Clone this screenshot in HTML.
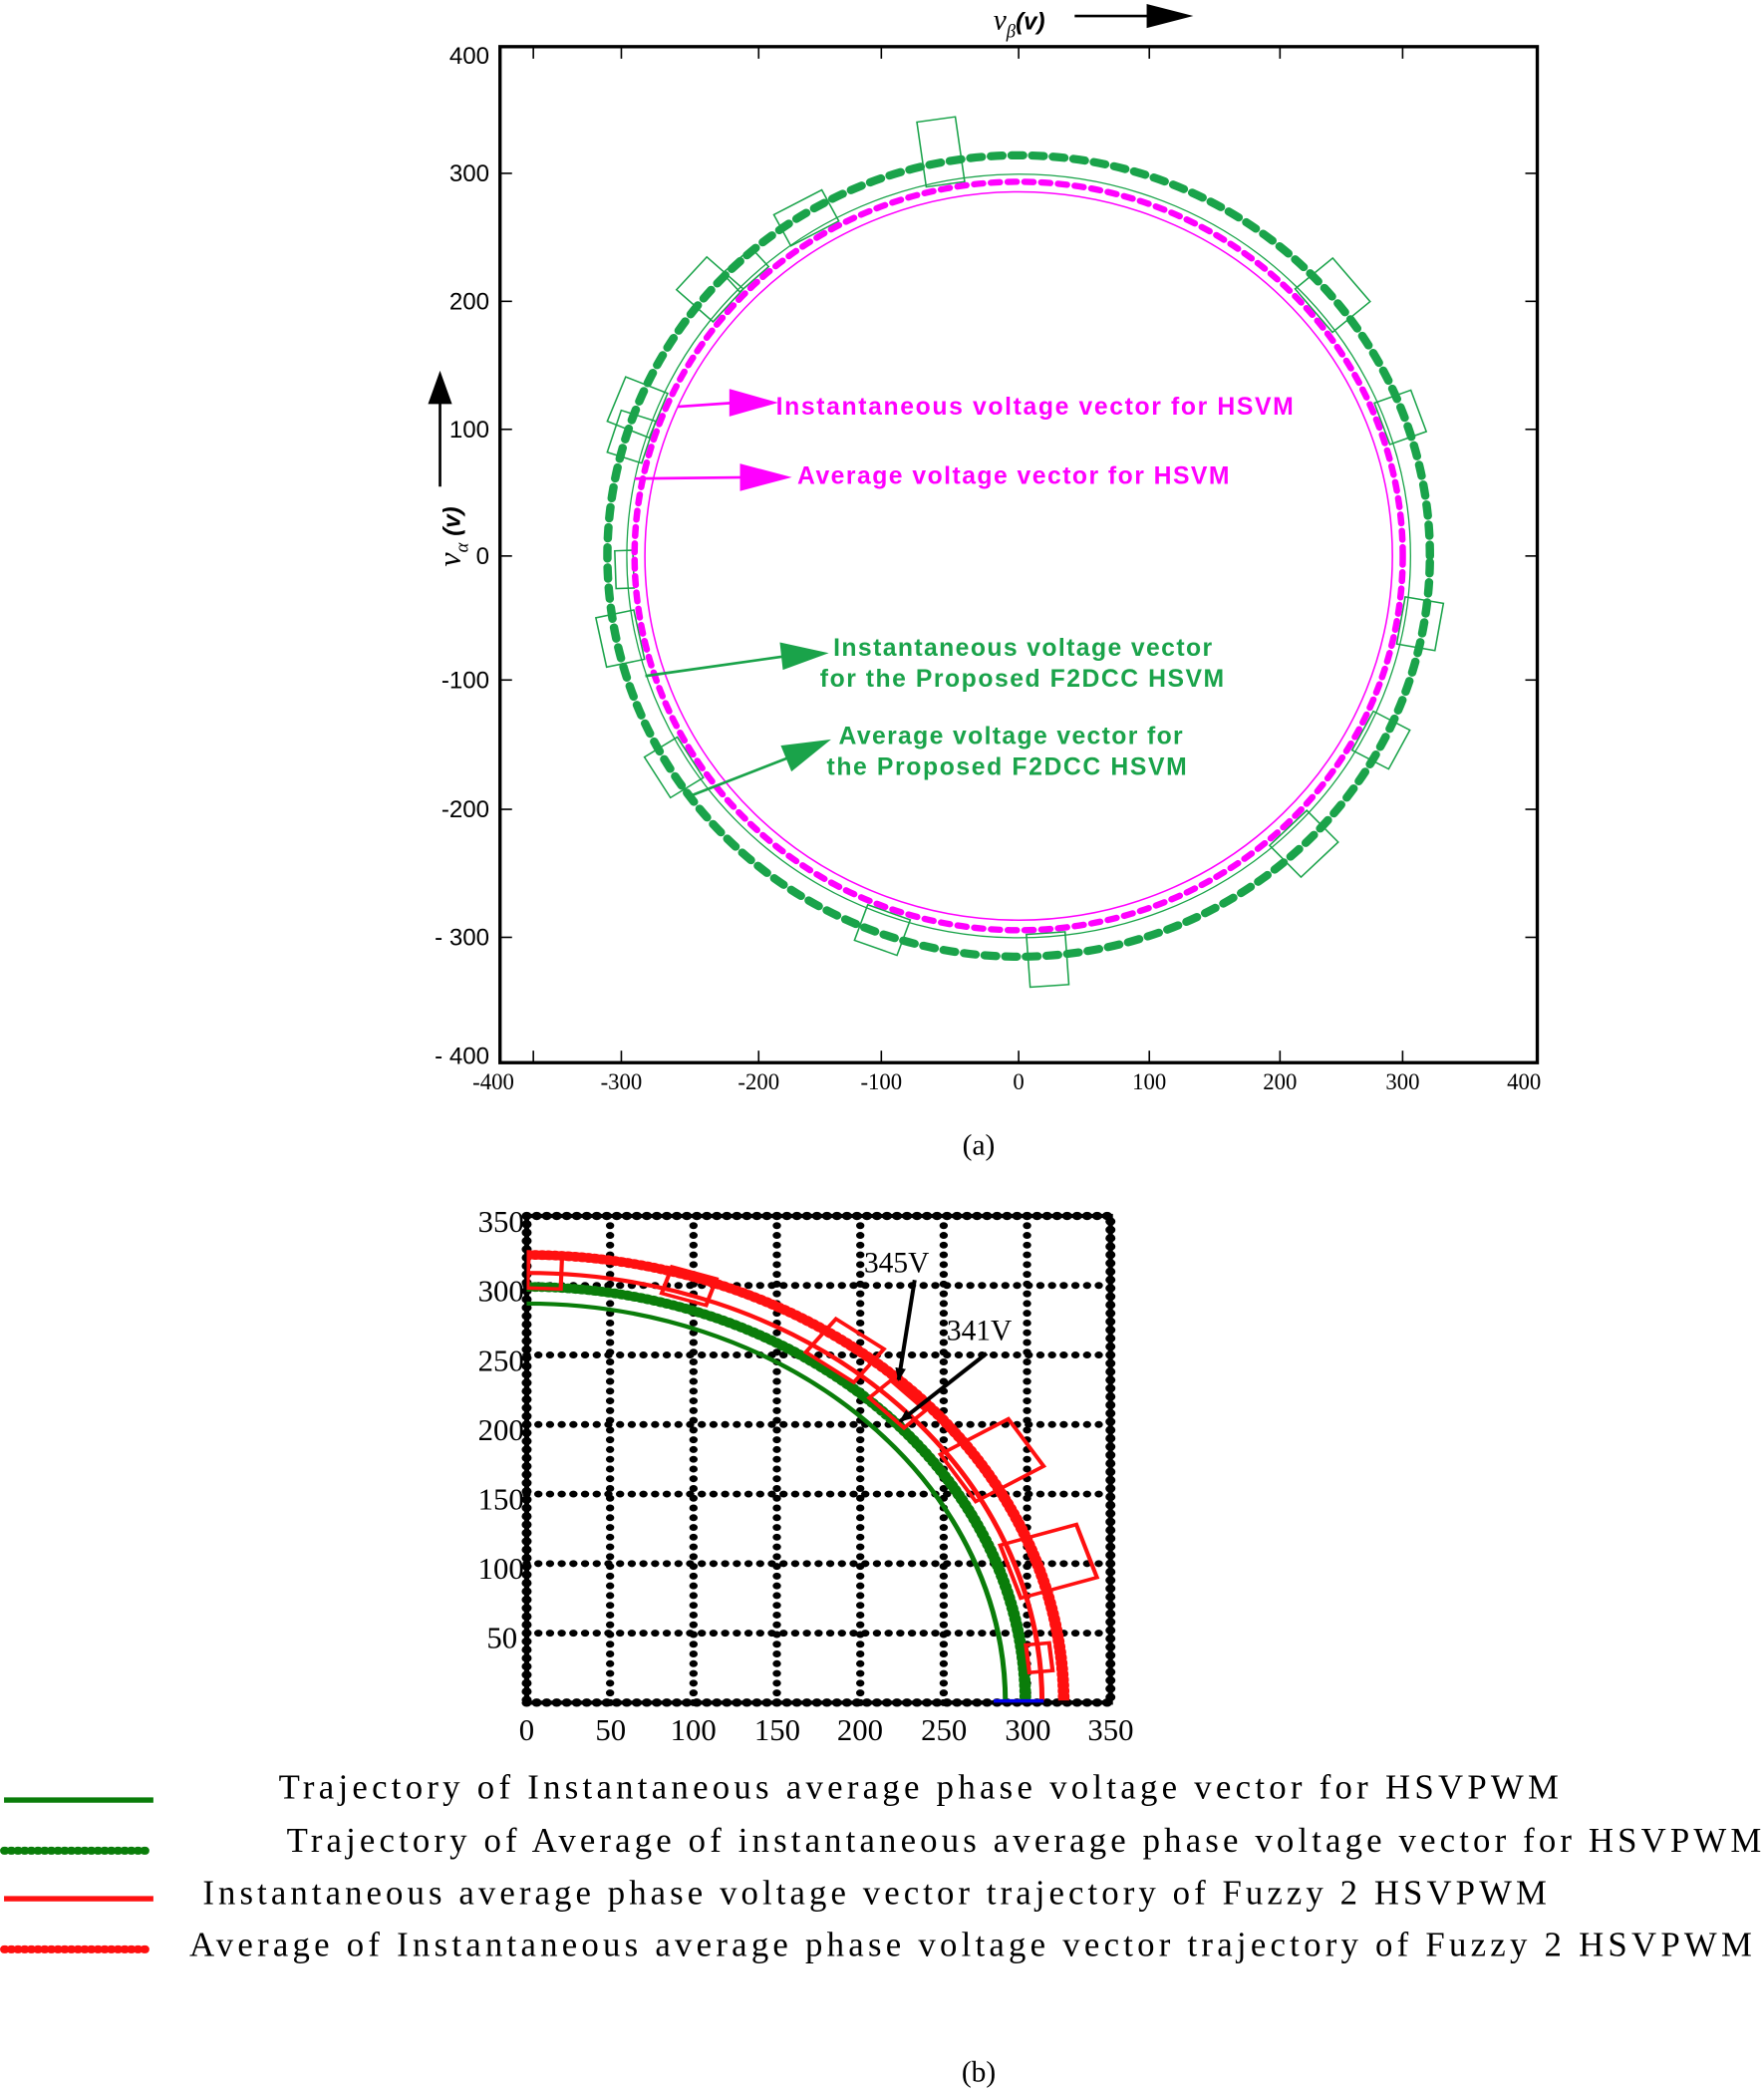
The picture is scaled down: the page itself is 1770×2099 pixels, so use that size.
<!DOCTYPE html>
<html><head><meta charset="utf-8"><style>
html,body{margin:0;padding:0;background:#fff;}
svg{display:block;}
.ar{font-family:"Liberation Sans",sans-serif;}
.tm{font-family:"Liberation Serif",serif;}
</style></head><body>
<svg width="1770" height="2099" viewBox="0 0 1323 1569" xmlns="http://www.w3.org/2000/svg">
<defs>
<clipPath id="cb"><rect x="0" y="0" width="350" height="350"/></clipPath>
<marker id="ma" markerWidth="10" markerHeight="8" refX="9" refY="4" orient="auto" markerUnits="userSpaceOnUse"><path d="M0,0 L10,4 L0,8z" fill="#000"/></marker>
</defs>
<!-- Plot (a) -->
<rect x="375" y="35" width="778" height="762" fill="none" stroke="#000" stroke-width="2.5"/>
<g stroke="#000" stroke-width="1.2">
<line x1="400" y1="35" x2="400" y2="44"/><line x1="466" y1="35" x2="466" y2="44"/><line x1="569" y1="35" x2="569" y2="44"/><line x1="661" y1="35" x2="661" y2="44"/><line x1="764" y1="35" x2="764" y2="44"/><line x1="862" y1="35" x2="862" y2="44"/><line x1="960" y1="35" x2="960" y2="44"/><line x1="1052" y1="35" x2="1052" y2="44"/>
<line x1="400" y1="797" x2="400" y2="788"/><line x1="466" y1="797" x2="466" y2="788"/><line x1="569" y1="797" x2="569" y2="788"/><line x1="661" y1="797" x2="661" y2="788"/><line x1="764" y1="797" x2="764" y2="788"/><line x1="862" y1="797" x2="862" y2="788"/><line x1="960" y1="797" x2="960" y2="788"/><line x1="1052" y1="797" x2="1052" y2="788"/>
<line x1="375" y1="130" x2="384" y2="130"/><line x1="375" y1="226" x2="384" y2="226"/><line x1="375" y1="322" x2="384" y2="322"/><line x1="375" y1="417" x2="384" y2="417"/><line x1="375" y1="510" x2="384" y2="510"/><line x1="375" y1="607" x2="384" y2="607"/><line x1="375" y1="703" x2="384" y2="703"/>
<line x1="1153" y1="130" x2="1144" y2="130"/><line x1="1153" y1="226" x2="1144" y2="226"/><line x1="1153" y1="322" x2="1144" y2="322"/><line x1="1153" y1="417" x2="1144" y2="417"/><line x1="1153" y1="510" x2="1144" y2="510"/><line x1="1153" y1="607" x2="1144" y2="607"/><line x1="1153" y1="703" x2="1144" y2="703"/>
</g>
<g class="ar" font-size="18" text-anchor="end" fill="#000">
<text x="367" y="48">400</text><text x="367" y="136">300</text><text x="367" y="232">200</text><text x="367" y="328">100</text><text x="367" y="423">0</text><text x="367" y="516">-100</text><text x="367" y="613">-200</text><text x="367" y="709">- 300</text><text x="367" y="798">- 400</text>
</g>
<g class="tm" font-size="17" text-anchor="middle" fill="#000">
<text x="370" y="817">-400</text><text x="466" y="817">-300</text><text x="569" y="817">-200</text><text x="661" y="817">-100</text><text x="764" y="817">0</text><text x="862" y="817">100</text><text x="960" y="817">200</text><text x="1052" y="817">300</text><text x="1143" y="817">400</text>
</g>
<text x="745" y="22" class="tm" font-style="italic" font-size="22">v<tspan font-size="14" dy="6">β</tspan><tspan dy="-6" class="ar" font-weight="bold" font-size="18">(v)</tspan></text>
<line x1="806" y1="12" x2="862" y2="12" stroke="#000" stroke-width="2"/><path d="M860,3 L895,12 L860,21z" fill="#000"/>
<path d="M330,303 L321,303 L330,278 L339,303z" fill="#000"/><line x1="330" y1="302" x2="330" y2="365" stroke="#000" stroke-width="2"/>
<text transform="translate(345,425) rotate(-90)" class="tm" font-style="italic" font-size="24">v<tspan font-size="14" dy="6">α</tspan><tspan dy="-6" class="ar" font-weight="bold" font-size="18"> (v)</tspan></text>

<g transform="translate(764,417) scale(0.97,-0.945)" fill="none">
<circle r="289" stroke="#ff00ff" stroke-width="1.2"/>
<circle r="303" stroke="#1aa34a" stroke-width="1"/>
<g stroke="#1aa34a" stroke-width="1.2">
<rect x="-30" y="300" width="30" height="52" transform="rotate(8)"/>
<rect x="-40" y="300" width="42" height="28" transform="rotate(28)"/>
<rect x="-20" y="300" width="35" height="38" transform="rotate(48)"/>
<rect x="-20" y="300" width="38" height="35" transform="rotate(68)"/>
<rect x="-15" y="298" width="30" height="14" transform="rotate(92)"/>
<rect x="-25" y="300" width="45" height="38" transform="rotate(-50)"/>
<rect x="-20" y="300" width="35" height="30" transform="rotate(-70)"/>
<rect x="-20" y="300" width="38" height="30" transform="rotate(-100)"/>
<rect x="-20" y="300" width="35" height="32" transform="rotate(-118)"/>
<rect x="-20" y="300" width="40" height="35" transform="rotate(-136)"/>
<rect x="-15" y="300" width="30" height="42" transform="rotate(-176)"/>
<rect x="-20" y="300" width="35" height="30" transform="rotate(-200)"/>
<rect x="-20" y="300" width="38" height="30" transform="rotate(-238)"/>
<rect x="-20" y="300" width="40" height="30" transform="rotate(-258)"/>
<rect x="-20" y="300" width="35" height="28" transform="rotate(-288)"/>
<rect x="-20" y="300" width="30" height="20" transform="rotate(-318)"/>
</g>
<circle r="318" stroke="#1aa34a" stroke-width="6.5" stroke-dasharray="9 7" stroke-linecap="round"/>
<circle r="297" stroke="#ff00ff" stroke-width="5" stroke-dasharray="7 6" stroke-linecap="round"/>
</g>
<g stroke="#ff00ff" stroke-width="2" fill="#ff00ff">
<line x1="508" y1="305" x2="552" y2="302"/><path d="M548,293 L580,302 L548,311z"/>
<line x1="476" y1="359" x2="560" y2="358"/><path d="M556,349 L590,358 L556,367z"/>
</g>
<g stroke="#1aa34a" stroke-width="2" fill="#1aa34a">
<line x1="484" y1="507" x2="590" y2="492"/><path d="M586,483 L618,490 L588,501z"/>
<line x1="515" y1="598" x2="592" y2="568"/><path d="M587,560 L620,556 L594,577z"/>
</g>
<g class="ar" font-weight="bold" font-size="18.5">
<text x="582" y="311" fill="#ff00ff" textLength="388">Instantaneous voltage vector  for HSVM</text>
<text x="598" y="363" fill="#ff00ff" textLength="324">Average voltage vector for HSVM</text>
<text x="625" y="492" fill="#1aa34a" textLength="284">Instantaneous voltage vector</text>
<text x="615" y="515" fill="#1aa34a" textLength="303">for the Proposed F2DCC HSVM</text>
<text x="629" y="558" fill="#1aa34a" textLength="258">Average voltage vector for</text>
<text x="620" y="581" fill="#1aa34a" textLength="270">the Proposed F2DCC HSVM</text>
</g>
<text x="734" y="866" class="tm" font-size="22" text-anchor="middle">(a)</text>

<!-- Plot (b) -->
<g transform="translate(395,1277) scale(1.251,-1.043)">
<g stroke="#000" stroke-width="5" stroke-dasharray="0 7" stroke-linecap="round" fill="none">
<path d="M50,0V350M100,0V350M150,0V350M200,0V350M250,0V350M300,0V350M0,50H350M0,100H350M0,150H350M0,200H350M0,250H350M0,300H350"/>
</g>
<rect x="0" y="0" width="350" height="350" fill="none" stroke="#000" stroke-width="3"/>
<rect x="0" y="0" width="350" height="350" fill="none" stroke="#000" stroke-width="6" stroke-dasharray="0 6" stroke-linecap="round"/>
<g clip-path="url(#cb)" fill="none">
<circle r="287" stroke="#0a7d0a" stroke-width="3"/>
<circle r="299" stroke="#0a7d0a" stroke-width="7" stroke-dasharray="1 3" stroke-linecap="round"/>
<circle r="309" stroke="#ff1010" stroke-width="3"/>
<circle r="322" stroke="#ff1010" stroke-width="7" stroke-dasharray="1 3" stroke-linecap="round"/>
<g stroke="#ff1010" stroke-width="2.5">
<rect x="-14" y="305" width="28" height="20" transform="rotate(-18)"/>
<rect x="-18" y="302" width="36" height="30" transform="rotate(-37)"/>
<rect x="-15" y="300" width="30" height="18" transform="rotate(-46)"/>
<rect x="-20" y="305" width="40" height="48" transform="rotate(-58)"/>
<rect x="-20" y="305" width="40" height="48" transform="rotate(-72)"/>
<rect x="-10" y="302" width="20" height="14" transform="rotate(-84)"/>
<rect x="-10" y="298" width="20" height="22" transform="rotate(-2)"/>
</g>
<path d="M240,0 L350,0" stroke="#000" stroke-width="3"/>
<path d="M280,1 H310" stroke="#0000ee" stroke-width="3"/>
</g>
</g>
<g class="tm" font-size="23" text-anchor="end" fill="#000">
<text x="393" y="924">350</text><text x="393" y="976">300</text><text x="393" y="1028">250</text><text x="393" y="1080">200</text><text x="393" y="1132">150</text><text x="393" y="1184">100</text><text x="388" y="1236">50</text>
</g>
<g class="tm" font-size="23" text-anchor="middle" fill="#000">
<text x="395" y="1305">0</text><text x="458" y="1305">50</text><text x="520" y="1305">100</text><text x="583" y="1305">150</text><text x="645" y="1305">200</text><text x="708" y="1305">250</text><text x="771" y="1305">300</text><text x="833" y="1305">350</text>
</g>
<text x="648" y="954" class="tm" font-size="22">345V</text>
<text x="710" y="1005" class="tm" font-size="22">341V</text>
<g stroke="#000" stroke-width="3">
<line x1="686" y1="960" x2="674" y2="1035" marker-end="url(#ma)"/>
<line x1="740" y1="1015" x2="675" y2="1066" marker-end="url(#ma)"/>
</g>
<g stroke-width="4" fill="none">
<line x1="3" y1="1350" x2="115" y2="1350" stroke="#0a7d0a"/>
<line x1="3" y1="1388" x2="112" y2="1388" stroke="#0a7d0a" stroke-width="6" stroke-dasharray="1 4" stroke-linecap="round"/>
<line x1="3" y1="1424" x2="115" y2="1424" stroke="#ff1010"/>
<line x1="3" y1="1462" x2="112" y2="1462" stroke="#ff1010" stroke-width="6" stroke-dasharray="1 4" stroke-linecap="round"/>
</g>
<g class="tm" font-size="26" fill="#000">
<text x="209" y="1349" textLength="960">Trajectory of Instantaneous average phase voltage vector  for HSVPWM</text>
<text x="215" y="1389" textLength="1106">Trajectory of Average of instantaneous average phase voltage vector for HSVPWM</text>
<text x="152" y="1428" textLength="1008">Instantaneous average phase voltage vector trajectory of Fuzzy 2 HSVPWM</text>
<text x="142" y="1467" textLength="1172">Average of Instantaneous average phase voltage vector  trajectory of Fuzzy 2 HSVPWM</text>
</g>
<text x="734" y="1561" class="tm" font-size="22" text-anchor="middle">(b)</text>
</svg>
</body></html>
